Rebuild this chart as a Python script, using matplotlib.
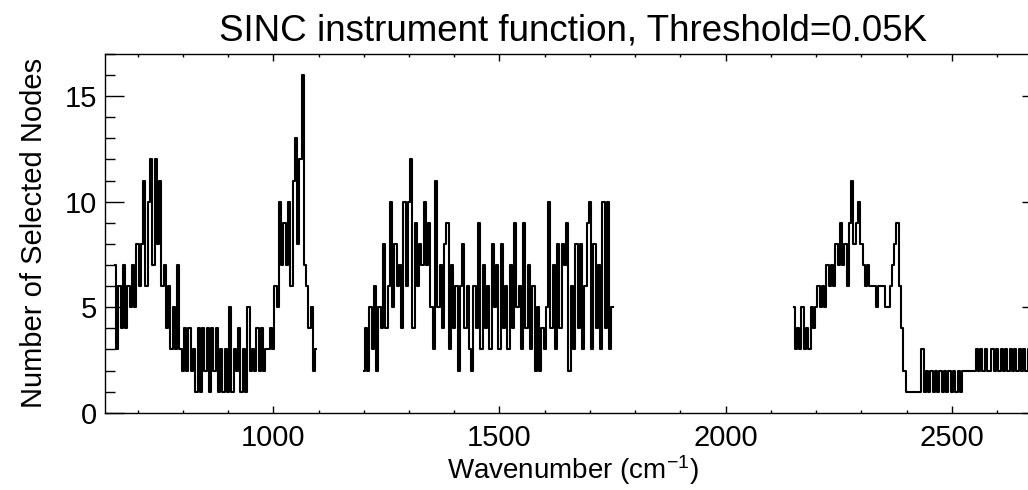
import numpy as np
import matplotlib
matplotlib.use('Agg')
import matplotlib.pyplot as plt
from matplotlib.ticker import MultipleLocator
import matplotlib.transforms as mtransforms

plt.rcParams['font.family'] = ['Liberation Sans', 'DejaVu Sans']
plt.rcParams['mathtext.fontset'] = 'custom'
plt.rcParams['mathtext.rm'] = 'Liberation Sans'
plt.rcParams['mathtext.it'] = 'Liberation Sans:italic'

# wavenumber grids (cm-1) of the three selected bands, 5 cm-1 sampling
wn_band1 = np.arange(650, 1100, 5)
wn_band2 = np.arange(1200, 1755, 5)
wn_band3 = np.arange(2150, 2705, 5)

# number of selected nodes
nodes_band1 = [7, 3, 6, 4, 7, 4, 6, 5, 7, 5,
               8, 6, 8, 11, 6, 10, 12, 7, 12, 8,
               11, 6, 7, 4, 6, 3, 5, 3, 7, 3,
               2, 4, 2, 4, 2, 3, 1, 4, 1, 4,
               2, 4, 1, 4, 2, 4, 1, 3, 1, 3,
               1, 5, 1, 3, 2, 4, 1, 3, 1, 5,
               2, 3, 2, 4, 2, 4, 2, 3, 3, 4,
               3, 6, 5, 10, 7, 9, 7, 10, 6, 11,
               13, 8, 12, 16, 7, 6, 4, 5, 2, 3]

nodes_band2 = [2, 4, 2, 5, 3, 6, 2, 5, 4, 8,
               4, 6, 10, 5, 8, 6, 7, 4, 10, 6,
               10, 12, 4, 9, 6, 8, 7, 10, 7, 9,
               5, 3, 11, 5, 7, 4, 8, 9, 3, 7,
               4, 6, 2, 6, 8, 4, 6, 3, 2, 6,
               4, 9, 3, 7, 4, 6, 3, 8, 5, 7,
               3, 8, 4, 6, 3, 7, 4, 9, 5, 6,
               3, 9, 4, 7, 3, 6, 2, 5, 2, 4,
               3, 5, 10, 4, 7, 3, 8, 4, 8, 7,
               9, 2, 6, 3, 8, 4, 8, 3, 6, 9,
               10, 3, 8, 4, 7, 3, 10, 4, 10, 3,
               5]

nodes_band3 = [5, 3, 4, 3, 5, 3, 4, 3, 5, 4,
               5, 6, 5, 6, 5, 7, 6, 7, 6, 8,
               7, 9, 7, 8, 6, 9, 11, 8, 9, 10,
               8, 7, 6, 7, 6, 6, 6, 5, 6, 6,
               6, 5, 5, 6, 7, 8, 9, 6, 4, 2,
               1, 1, 1, 1, 1, 1, 1, 3, 1, 2,
               1, 2, 1, 2, 1, 2, 1, 2, 1, 2,
               1, 2, 1, 2, 1, 2, 2, 2, 2, 2,
               2, 3, 2, 3, 2, 3, 2, 2, 3, 2,
               3, 2, 3, 2, 3, 2, 3, 2, 3, 2,
               3, 2, 3, 2, 3, 2, 3, 2, 3, 2,
               3]

fig = plt.figure(figsize=(10.28, 4.90), dpi=100)
ax = fig.add_axes([105 / 1028, (490 - 412.7) / 490, 936 / 1028, (412.7 - 54) / 490])

for wn, nodes in [(wn_band1, nodes_band1), (wn_band2, nodes_band2), (wn_band3, nodes_band3)]:
    ax.plot(wn, nodes, color='black', linewidth=1.5, drawstyle='steps-mid')

ax.set_xlim(628, 2697)
ax.set_ylim(0, 17)
ax.xaxis.set_major_locator(MultipleLocator(500))
ax.xaxis.set_minor_locator(MultipleLocator(100))
ax.yaxis.set_major_locator(MultipleLocator(5))
ax.yaxis.set_minor_locator(MultipleLocator(1))

ax.tick_params(axis='x', which='major', direction='in', length=5, width=1, top=True, labelsize=21, pad=8)
ax.tick_params(axis='x', which='minor', direction='in', length=2.5, width=1, top=True)
ax.tick_params(axis='y', which='major', direction='in', length=13.5, width=1, right=True, labelsize=21, pad=6)
ax.tick_params(axis='y', which='minor', direction='in', length=7, width=1, right=True)
for s in ax.spines.values():
    s.set_linewidth(1.0)

# IDL lifts the bottom "0" label a little off the axis
fig.canvas.draw()
lab0 = ax.yaxis.get_majorticklabels()[0]
lab0.set_transform(lab0.get_transform() + mtransforms.ScaledTranslation(0, 7 / 100, fig.dpi_scale_trans))

ax.set_title('SINC instrument function, Threshold=0.05K', fontsize=26.5, pad=10)
ax.set_xlabel('Wavenumber (cm$^{-1}$)', fontsize=20, labelpad=1)
ax.set_ylabel('Number of Selected Nodes', fontsize=21, labelpad=12)

fig.savefig('out.png', dpi=100)
